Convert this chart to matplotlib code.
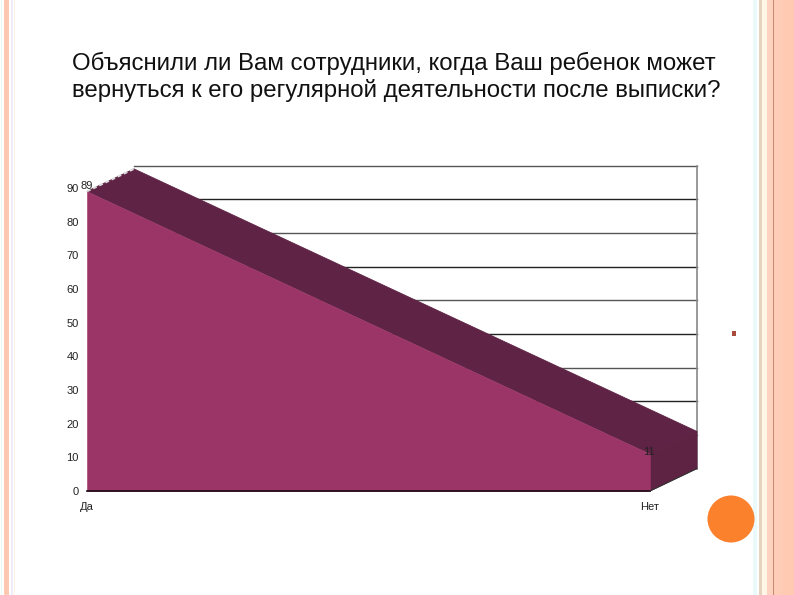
import matplotlib
matplotlib.use('Agg')
import matplotlib.pyplot as plt
from matplotlib.patches import Circle, Polygon, Rectangle

categories = ['Да', 'Нет']
values = [89, 11]
y_ticks = [0, 10, 20, 30, 40, 50, 60, 70, 80, 90]
title_lines = ['Объяснили ли Вам сотрудники, когда Ваш ребенок может',
               'вернуться к его регулярной деятельности после выписки?']

plt.rcParams['font.family'] = ['Liberation Sans', 'DejaVu Sans']

W, H = 794, 595
fig = plt.figure(figsize=(W / 100, H / 100), dpi=100)

# slide background in pixel coordinates
bg = fig.add_axes([0, 0, 1, 1])
bg.set_xlim(0, W)
bg.set_ylim(H, 0)
bg.axis('off')
stripes = [(1, 1, '#e8f8f4'), (4, 5, '#fdc9b3'), (11, 2, '#f0ecfc'), (14, 1, '#fdf3e2'),
           (753, 4, '#eaf9fa'), (759, 3, '#e6d3bf'), (762, 5, '#fff6e8'), (767, 6, '#fdd3c0'),
           (773, 1, '#c58a70'), (774, 8, '#fdcdb8'), (782, 12, '#ffc9b2')]
for x0, w, c in stripes:
    bg.add_patch(Rectangle((x0, 0), w, H, color=c, lw=0))
bg.add_patch(Circle((731, 519), 23.5, color='#fb812c', lw=0))
bg.add_patch(Rectangle((732, 331), 4, 5, color='#a84a3c', lw=0))
bg.text(72, 63, title_lines[0], fontsize=17.3, va='center', color='#111111')
bg.text(72, 90, title_lines[1], fontsize=17.3, va='center', color='#111111')

# chart axes: Да at x=87, Нет at x=650, 0 at y=491, 90 at y=188
ax = fig.add_axes([87 / W, 1 - 491 / H, 563 / W, 303 / H])
ax.patch.set_alpha(0)
ax.set_xlim(0, 1)
ax.set_ylim(0, 90)
for s in ax.spines.values():
    s.set_visible(False)

# depth of the 3D look, in data units
dx = 47 / 563
dy = 22.5 / 303 * 90

xs = [0, 1]
# back wall grid
for t in y_ticks[1:]:
    ax.plot([dx, 1 + dx], [t + dy, t + dy], color='#222222' if t % 20 == 0 else '#555555',
            lw=1.0, clip_on=False, zorder=1)
ax.plot([1 + dx, 1 + dx], [dy, 90 + dy], color='#888888', lw=1.2, clip_on=False, zorder=1)

# top, side and front faces of the area
top = [(xs[0], values[0]), (xs[0] + dx, values[0] + dy), (xs[1] + dx, values[1] + dy), (xs[1], values[1])]
ax.add_patch(Polygon(top, closed=True, fc='#5f2345', ec='#5f2345', lw=0.6, clip_on=False, zorder=2))
side = [(xs[1], 0), (xs[1], values[1]), (xs[1] + dx, values[1] + dy), (xs[1] + dx, dy)]
ax.add_patch(Polygon(side, closed=True, fc='#5e2242', ec='#5e2242', lw=0.6, clip_on=False, zorder=2))
ax.fill_between(xs, [0, 0], values, color='#9c3567', lw=0.4, zorder=3)
ax.plot([xs[0], xs[1]], [0, 0], color='#1c0a14', lw=1.2, clip_on=False, zorder=4)
ax.plot([xs[1], xs[1] + dx], [0, dy], color='#333333', lw=0.8, clip_on=False, zorder=4)
ax.plot([xs[0], xs[0] + dx], [values[0], values[0] + dy], color='#dddddd', lw=1.4,
        ls=(0, (2, 1.5)), clip_on=False, zorder=4)

ax.set_xticks(xs, categories)
ax.set_yticks(y_ticks)
ax.tick_params(length=0, labelsize=8, labelcolor='#222222')
ax.tick_params(axis='y', pad=6)
ax.tick_params(axis='x', pad=8)

ax.text(xs[0] - 0.001, values[0] + 0.2, str(values[0]), fontsize=8, ha='center', va='bottom', color='#222222', zorder=5)
ax.text(xs[1] - 0.002, values[1] + 0.7, str(values[1]), fontsize=8, ha='center', va='center', color='#222222', zorder=5)

fig.savefig('out.png', dpi=100)
